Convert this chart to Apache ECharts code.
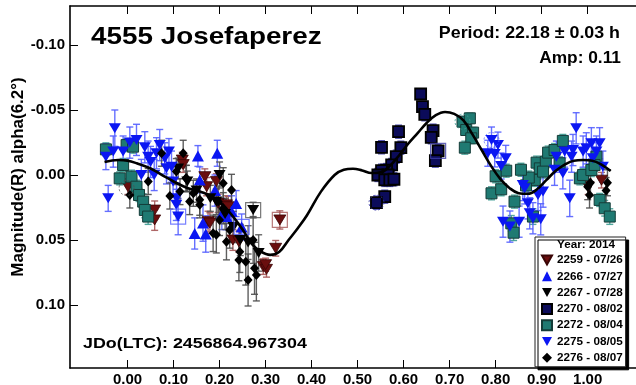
<!DOCTYPE html>
<html>
<head>
<meta charset="utf-8">
<script src="https://cdn.jsdelivr.net/npm/echarts@6/dist/echarts.min.js"></script>
<style>
  html, body { margin: 0; padding: 0; background: #fff; }
  #chart { width: 636px; height: 385px; }
</style>
</head>
<body>
<div id="chart"></div>
<script>
// Lightcurve of 4555 Josefaperez: phase vs. reduced R magnitude, per session.
// Each point is [phase, magnitude, error].
const s2259 = [
  [0.001,0.009,0.006],[0.059,0.027,0.007],[0.059,0.0346,0.008],[0.119,-0.0115,0.006],
  [0.121,-0.008,0.006],[0.168,0.0013,0.006],[0.172,0.009,0.007],[0.175,0.0359,0.008],
  [0.179,0.037,0.008],[0.193,0.0051,0.006],[0.197,0.0218,0.007],[0.215,0.023,0.007],
  [0.219,0.0244,0.008],[0.229,0.050,0.008],[0.242,0.0513,0.008],[0.295,0.0705,0.006],
  [0.302,0.0726,0.006],[0.300,0.069,0.005],[0.322,0.0564,0.006],[0.331,0.0346,0.007],
  [1.001,0.009,0.006],[1.030,0.004,0.006]
];
const s2266 = [
  [0.153,-0.0146,0.008],[0.195,-0.0167,0.010],[0.157,0.0038,0.010],[0.146,0.045,0.012],
  [0.164,0.037,0.014],[0.170,0.0454,0.014],[0.215,0.032,0.010],[0.226,0.028,0.012],
  [0.248,0.040,0.010],[0.236,0.022,0.010],[0.190,0.012,0.012],[0.205,0.030,0.012]
];
const s2267 = [
  [0.130,0.005,0.008],[0.150,0.012,0.009],[0.180,0.018,0.010],[0.193,0.0205,0.010],
  [0.212,0.030,0.012],[0.230,0.040,0.012],[0.245,0.050,0.012],[0.262,0.052,0.013],
  [0.273,0.027,0.006],[0.285,0.060,0.014],[0.200,0.000,0.010],[0.110,-0.005,0.008]
];
const s2270 = [
  [0.637,-0.0623,0.004],[0.641,-0.0526,0.004],[0.646,-0.0467,0.005],[0.589,-0.0333,0.005],
  [0.552,-0.0213,0.005],[0.594,-0.021,0.005],[0.584,-0.0141,0.005],[0.664,-0.0341,0.005],
  [0.660,-0.029,0.005],[0.675,-0.0185,0.005],[0.669,-0.011,0.005],[0.574,-0.0077,0.005],
  [0.563,-0.0038,0.005],[0.552,-0.0033,0.005],[0.544,0.000,0.005],[0.566,0.000,0.005],
  [0.559,0.0038,0.005],[0.570,0.0038,0.005],[0.579,0.0033,0.005],[0.559,0.0167,0.005],
  [0.541,0.0213,0.005]
];
const s2272 = [
  [-0.047,-0.0197,0.005],[-0.002,-0.023,0.005],[0.012,-0.0218,0.005],[-0.0096,-0.0077,0.005],
  [-0.017,0.0026,0.005],[0.0087,0.0013,0.005],[0.0195,0.009,0.005],[0.025,0.0154,0.005],
  [0.034,0.0205,0.006],[0.0376,0.0269,0.006],[0.0448,0.032,0.006],
  [0.728,-0.041,0.004],[0.744,-0.0436,0.004],[0.736,-0.0346,0.004],[0.751,-0.0326,0.004],
  [0.747,-0.0282,0.004],[0.733,-0.021,0.005],
  [0.791,0.0141,0.005],[0.812,0.011,0.005],[0.823,-0.0033,0.005],[0.841,0.0205,0.005],
  [0.834,0.0372,0.006],[0.839,0.0444,0.006],[0.881,0.032,0.006],[0.885,0.0038,0.005],
  [0.889,-0.0095,0.005],[0.896,-0.0051,0.005],[0.909,-0.0103,0.005],[0.914,-0.0172,0.005],
  [0.903,-0.0026,0.005],[0.928,-0.0192,0.005],[0.946,-0.0262,0.005],[0.939,-0.009,0.005],
  [0.983,0.0026,0.005],[0.990,0.000,0.005],[1.008,-0.0038,0.005],[1.026,0.0192,0.005],
  [1.037,0.0256,0.006],[1.048,0.032,0.006],[1.019,-0.0141,0.005],[1.015,-0.0077,0.005],
  [0.866,0.008,0.005],[0.872,0.002,0.005],[0.800,0.001,0.005],[0.855,-0.004,0.005]
];
const s2275 = [
  [-0.0276,-0.036,0.014],[-0.047,-0.0141,0.010],[-0.042,0.018,0.010],[-0.031,-0.018,0.012],
  [-0.0096,-0.018,0.012],[0.005,-0.0249,0.012],[0.0195,-0.027,0.012],[0.0376,-0.0213,0.012],
  [0.0448,-0.0141,0.012],[0.070,-0.023,0.012],[0.081,-0.0128,0.012],[0.063,-0.0167,0.012],
  [0.0847,-0.0051,0.012],[0.1065,0.018,0.012],[0.110,0.032,0.014],[0.058,0.000,0.012],
  [0.099,0.0051,0.012],[0.030,0.000,0.012],[0.0956,-0.0064,0.012],[0.106,0.023,0.012],
  [0.050,-0.010,0.012],[0.090,-0.018,0.010],
  [0.975,-0.0359,0.012],[0.791,-0.0269,0.010],[0.805,-0.023,0.010],[0.783,-0.0167,0.010],
  [0.798,-0.0162,0.010],[0.822,-0.0128,0.010],[0.812,-0.0069,0.010],[0.859,0.0077,0.012],
  [0.863,0.0103,0.012],[0.870,0.0218,0.012],[0.874,0.0295,0.012],[0.881,0.0333,0.012],
  [0.816,0.0359,0.012],[0.831,0.0397,0.012],[0.851,0.0359,0.012],[0.898,0.0341,0.012],
  [0.892,0.0154,0.012],[0.903,0.0128,0.012],[0.961,0.018,0.014],[0.932,-0.0141,0.012],
  [0.950,-0.018,0.012],[0.968,-0.0192,0.012],[0.965,-0.0141,0.012],[0.990,-0.018,0.012],
  [1.008,-0.0244,0.012],[1.019,-0.018,0.012],[1.026,-0.0244,0.012],[1.011,-0.0128,0.012],
  [1.033,-0.0064,0.012],[0.946,-0.0013,0.012],[0.928,-0.004,0.012],[0.997,-0.0205,0.012]
];
const s2276 = [
  [0.121,-0.0167,0.010],[0.074,-0.0167,0.010],[0.127,0.0026,0.010],[0.114,0.0128,0.010],
  [0.092,0.0162,0.010],[0.005,0.0154,0.010],[0.106,-0.0026,0.010],[0.143,0.0141,0.010],
  [0.197,0.0205,0.012],[0.226,0.0115,0.012],[0.135,0.0205,0.010],[0.157,0.019,0.012],
  [0.208,0.0256,0.012],[0.186,0.0449,0.014],[0.215,0.0513,0.014],[0.242,0.0654,0.016],
  [0.257,0.0667,0.018],[0.262,0.0808,0.020],[0.276,0.0718,0.020],[0.280,0.0769,0.020],
  [0.273,0.050,0.018],[0.244,0.059,0.016],[0.222,0.0423,0.014],[0.200,0.0346,0.012],
  [0.157,0.023,0.010],[0.193,0.046,0.014],[0.128,0.0026,0.010],[0.208,0.0064,0.012],
  [0.045,0.005,0.010],[1.004,0.0154,0.010],[1.000,0.009,0.010],[1.006,0.0059,0.010],
  [1.043,0.006,0.010],[1.040,0.012,0.010]
];

// Fourier fit of the lightcurve
const fitPhase = [-0.05,-0.02,0.00,0.02,0.05,0.08,0.10,0.13,0.16,0.19,0.22,0.25,0.27,0.29,0.31,
  0.33,0.35,0.37,0.39,0.42,0.45,0.47,0.49,0.51,0.53,0.55,0.57,0.59,0.61,0.63,0.65,0.67,0.69,
  0.71,0.73,0.75,0.77,0.79,0.81,0.83,0.85,0.87,0.89,0.91,0.93,0.95,0.97,0.99,1.01,1.03,1.05];
const fitMag = [-0.010,-0.0115,-0.011,-0.009,-0.005,0.001,0.005,0.010,0.013,0.018,0.028,0.042,
  0.053,0.059,0.0615,0.059,0.050,0.041,0.031,0.013,0.000,-0.004,-0.0048,-0.0035,-0.0015,-0.002,
  -0.007,-0.015,-0.024,-0.032,-0.040,-0.046,-0.0485,-0.047,-0.042,-0.031,-0.019,-0.007,0.003,
  0.010,0.014,0.0145,0.011,0.004,-0.003,-0.008,-0.011,-0.0115,-0.011,-0.008,-0.003];

// Points marked as flagged in the fit: [phase, magnitude, session]
const flaggedBoxes = [[0.331,0.0346,'2259'],[0.273,0.027,'2267'],[0.110,0.032,'2275'],
  [0.248,0.040,'2266'],[0.675,-0.0185,'2270']];
const flaggedCircles = [[0.541,0.0213,'2270'],[0.728,-0.041,'2272'],[0.791,-0.0269,'2275'],
  [-0.002,0.010,'2276']];

const xTicks = [0.0,0.1,0.2,0.3,0.4,0.5,0.6,0.7,0.8,0.9,1.0];
const yTicks = [-0.10,-0.05,0.00,0.05,0.10];

const sessionNames = ['2259 - 07/26','2266 - 07/27','2267 - 07/28','2270 - 08/02',
  '2272 - 08/04','2275 - 08/05','2276 - 08/07'];

const FONT = "'Liberation Sans', Arial, sans-serif";
const downTri = 'path://M0,0L10,0L5,9Z';

const sessions = [
  { key:'2259', data:s2259, symbol:downTri, size:[12,10], fill:'#6a0e0e', border:'#3a0505', bw:0.8, err:'#a65858' },
  { key:'2266', data:s2266, symbol:'triangle', size:[12,11], fill:'#0b16f2', border:'#0b16f2', bw:0, err:'#5560ff' },
  { key:'2267', data:s2267, symbol:downTri, size:[12,10], fill:'#000000', border:'#000000', bw:0, err:'#555555' },
  { key:'2270', data:s2270, symbol:'rect', size:[11,11], fill:'#0b0b5a', border:'#000000', bw:1.8, err:'#3d3da8' },
  { key:'2272', data:s2272, symbol:'rect', size:[11,11], fill:'#1f7a72', border:'#143c38', bw:1, err:'#3f9d94' },
  { key:'2275', data:s2275, symbol:downTri, size:[12,10], fill:'#0b16f2', border:'#0b16f2', bw:0, err:'#5560ff' },
  { key:'2276', data:s2276, symbol:'diamond', size:[9,10], fill:'#000000', border:'#000000', bw:0, err:'#4d4d4d' }
];
const colorOf = {};
sessions.forEach(s => { colorOf[s.key] = s.err; });

function errorBarSeries(s) {
  return {
    type: 'custom',
    name: 'err' + s.key,
    coordinateSystem: 'cartesian2d',
    silent: true,
    z: 1,
    data: s.data,
    renderItem: function (params, api) {
      const x = api.value(0), y = api.value(1), e = api.value(2);
      const a = api.coord([x, y - e]);
      const b = api.coord([x, y + e]);
      const hw = 3.5;
      const st = { stroke: s.err, lineWidth: 1.4, opacity: 0.9 };
      return {
        type: 'group',
        children: [
          { type: 'line', shape: { x1: a[0], y1: a[1], x2: b[0], y2: b[1] }, style: st },
          { type: 'line', shape: { x1: a[0] - hw, y1: a[1], x2: a[0] + hw, y2: a[1] }, style: st },
          { type: 'line', shape: { x1: b[0] - hw, y1: b[1], x2: b[0] + hw, y2: b[1] }, style: st }
        ]
      };
    }
  };
}

const series = [];
sessions.forEach(s => series.push(errorBarSeries(s)));
sessions.forEach((s, i) => {
  series.push({
    type: 'scatter',
    name: sessionNames[i],
    data: s.data.map(d => [d[0], d[1]]),
    symbol: s.symbol,
    symbolSize: s.size,
    z: 3,
    itemStyle: { color: s.fill, borderColor: s.border, borderWidth: s.bw, opacity: 1 },
    emphasis: { disabled: true }
  });
});
series.push({
  type: 'scatter',
  name: 'flagBox',
  data: flaggedBoxes.map(f => ({ value: [f[0], f[1]], itemStyle: { borderColor: colorOf[f[2]] } })),
  symbol: 'rect',
  symbolSize: 15,
  z: 4,
  silent: true,
  itemStyle: { color: 'rgba(0,0,0,0)', borderWidth: 1.2 }
});
series.push({
  type: 'scatter',
  name: 'flagCircle',
  data: flaggedCircles.map(f => ({ value: [f[0], f[1]], itemStyle: { borderColor: colorOf[f[2]] } })),
  symbol: 'circle',
  symbolSize: 15,
  z: 4,
  silent: true,
  itemStyle: { color: 'rgba(0,0,0,0)', borderWidth: 1, borderType: [2, 2] }
});
series.push({
  type: 'line',
  name: 'fit',
  data: fitPhase.map((p, i) => [p, fitMag[i]]),
  smooth: 0.4,
  showSymbol: false,
  silent: true,
  z: 5,
  lineStyle: { color: '#000', width: 2.6 }
});

const chart = echarts.init(document.getElementById('chart'), null, { renderer: 'canvas' });
const fmt2 = v => Number(v).toFixed(2);

chart.setOption({
  animation: false,
  backgroundColor: '#fff',
  grid: { left: 70, right: 0, top: 6, bottom: 17, containLabel: false, outerBoundsMode: 'none' },
  xAxis: [
    {
      type: 'value', min: -0.125, max: 1.105, position: 'bottom',
      axisLine: { show: true, onZero: false, lineStyle: { color: '#000', width: 1.6 } },
      axisTick: { show: true, inside: true, length: 8, customValues: xTicks, lineStyle: { color: '#000', width: 1 } },
      axisLabel: { show: true, customValues: xTicks, formatter: fmt2, margin: 4,
        color: '#000', fontSize: 15, fontWeight: 'bold', fontFamily: FONT },
      splitLine: { show: false }
    },
    {
      type: 'value', min: -0.125, max: 1.105, position: 'top',
      axisLine: { show: true, onZero: false, lineStyle: { color: '#000', width: 1.6 } },
      axisTick: { show: true, inside: true, length: 8, customValues: xTicks, lineStyle: { color: '#000', width: 1 } },
      axisLabel: { show: false },
      splitLine: { show: false }
    }
  ],
  yAxis: {
    type: 'value', min: -0.13, max: 0.1485, inverse: true,
    axisLine: { show: true, onZero: false, lineStyle: { color: '#000', width: 1.6 } },
    axisTick: { show: true, inside: true, length: 8, customValues: yTicks, lineStyle: { color: '#000', width: 1 } },
    axisLabel: { show: true, customValues: yTicks, formatter: fmt2, margin: 5,
      color: '#000', fontSize: 15, fontWeight: 'bold', fontFamily: FONT },
    splitLine: { show: false }
  },
  legend: {
    data: sessionNames,
    orient: 'vertical',
    left: 535, top: 237,
    padding: [17, 3, 3, 6],
    itemGap: 4.3,
    itemWidth: 10, itemHeight: 10,
    selectedMode: false,
    backgroundColor: '#fff',
    borderColor: '#222', borderWidth: 1,
    shadowColor: '#000', shadowBlur: 0, shadowOffsetX: 3, shadowOffsetY: 3,
    textStyle: { color: '#000', fontSize: 11.7, fontWeight: 'bold', fontFamily: FONT, lineHeight: 10 }
  },
  graphic: [
    { type: 'text', x: 91, y: 37, scaleX: 1.16, z: 100,
      style: { text: '4555 Josefaperez', x: 0, y: 0, fill: '#000', font: 'bold 24px ' + FONT,
        textAlign: 'left', textVerticalAlign: 'middle' } },
    { type: 'text', x: 620, y: 33, scaleX: 1.08, z: 100,
      style: { text: 'Period: 22.18 ± 0.03 h', x: 0, y: 0, fill: '#000', font: 'bold 16.5px ' + FONT,
        textAlign: 'right', textVerticalAlign: 'middle' } },
    { type: 'text', x: 621, y: 58, scaleX: 1.05, z: 100,
      style: { text: 'Amp: 0.11', x: 0, y: 0, fill: '#000', font: 'bold 16.5px ' + FONT,
        textAlign: 'right', textVerticalAlign: 'middle' } },
    { type: 'text', x: 83, y: 344, scaleX: 1.19, z: 100,
      style: { text: 'JDo(LTC): 2456864.967304', x: 0, y: 0, fill: '#000', font: 'bold 15px ' + FONT,
        textAlign: 'left', textVerticalAlign: 'middle' } },
    { type: 'text', x: 18, y: 177, rotation: Math.PI / 2, z: 100,
      style: { text: 'Magnitude(R) alpha(6.2°)', x: 0, y: 0, fill: '#000', font: 'bold 17px ' + FONT,
        textAlign: 'center', textVerticalAlign: 'middle' } },
    { type: 'text', x: 586, y: 245, z: 100,
      style: { text: 'Year: 2014', x: 0, y: 0, fill: '#000', font: 'bold 11.7px ' + FONT,
        textAlign: 'center', textVerticalAlign: 'middle' } }
  ],
  series: series
});
</script>
</body>
</html>
